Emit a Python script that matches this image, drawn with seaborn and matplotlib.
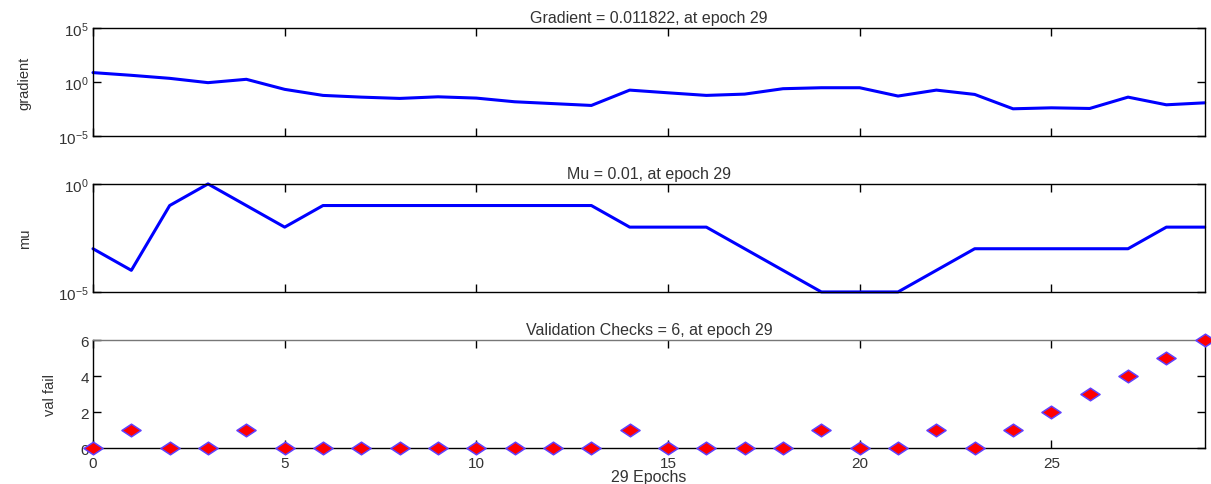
import numpy as np
import pandas as pd
import matplotlib
matplotlib.use("Agg")
import matplotlib.pyplot as plt
import seaborn as sns
from matplotlib.path import Path
from matplotlib.ticker import FixedLocator, LogFormatterMathtext, NullLocator

# ── data ─────────────────────────────────────────────────────────────────────
epochs = list(range(30))

grad_log10 = [0.87, 0.62, 0.34, -0.06, 0.25, -0.68, -1.24, -1.40, -1.52, -1.37,
              -1.49, -1.83, -2.00, -2.17, -0.75, -1.00, -1.24, -1.12, -0.62, -0.53,
              -0.53, -1.30, -0.75, -1.15, -2.48, -2.39, -2.45, -1.40, -2.11, -1.927]

mu_log10 = [-3, -4, -1, 0, -1, -2, -1, -1, -1, -1,
            -1, -1, -1, -1, -2, -2, -2, -3, -4, -5,
            -5, -5, -4, -3, -3, -3, -3, -3, -2, -2]

val_fail = [0, 1, 0, 0, 1, 0, 0, 0, 0, 0,
            0, 0, 0, 0, 1, 0, 0, 0, 0, 1,
            0, 0, 1, 0, 1, 2, 3, 4, 5, 6]

titles = ["Gradient = 0.011822, at epoch 29",
          "Mu = 0.01, at epoch 29",
          "Validation Checks = 6, at epoch 29"]
ylabels = ["gradient", "mu", "val fail"]
xlabel = "29 Epochs"

df = pd.DataFrame({
    "epoch":    epochs,
    "gradient": np.power(10.0, grad_log10),
    "mu":       np.power(10.0, mu_log10),
    "val_fail": val_fail,
})

# ── figure ───────────────────────────────────────────────────────────────────
sns.set_style("ticks")
plt.rcParams["font.family"] = ["Liberation Sans", "DejaVu Sans"]
plt.rcParams["mathtext.fontset"] = "custom"
plt.rcParams["mathtext.rm"] = "Liberation Sans"
plt.rcParams["mathtext.it"] = "Liberation Sans"

fig = plt.figure(figsize=(12.11, 4.85), dpi=100)
fig.patch.set_facecolor("white")

left, width, height = 0.0768, 0.918, 0.2227
bottoms = [0.7175, 0.396, 0.0742]
axes = [fig.add_axes([left, b, width, height]) for b in bottoms]

BLUE = "#0000ff"
TXT = "#333333"

# wide diamond, like the stretched MATLAB marker
wide_diamond = Path([(-1.0, 0.0), (0.0, 0.66), (1.0, 0.0), (0.0, -0.66), (-1.0, 0.0)],
                    [Path.MOVETO, Path.LINETO, Path.LINETO, Path.LINETO, Path.CLOSEPOLY])

sns.lineplot(data=df, x="epoch", y="gradient", ax=axes[0],
             color=BLUE, linewidth=2.2, clip_on=False)
sns.lineplot(data=df, x="epoch", y="mu", ax=axes[1],
             color=BLUE, linewidth=2.2, clip_on=False)
sns.scatterplot(data=df, x="epoch", y="val_fail", ax=axes[2],
                marker=wide_diamond, s=190, color="#ff0000", edgecolor="#6040ff",
                linewidth=1.1, clip_on=False, zorder=3)

axes[0].set_yscale("log")
axes[0].set_ylim(1e-5, 1e5)
axes[0].yaxis.set_major_locator(FixedLocator([1e-5, 1e0, 1e5]))

axes[1].set_yscale("log")
axes[1].set_ylim(1e-5, 1e0)
axes[1].yaxis.set_major_locator(FixedLocator([1e-5, 1e0]))

for ax in axes[:2]:
    ax.yaxis.set_major_formatter(LogFormatterMathtext())
    ax.yaxis.set_minor_locator(NullLocator())

axes[2].set_ylim(0, 6)
axes[2].set_yticks([0, 2, 4, 6])

label_pads = [19, 19, 17]
for i, ax in enumerate(axes):
    ax.set_xlim(0, 29)
    ax.set_xticks([0, 5, 10, 15, 20, 25])
    ax.tick_params(direction="in", top=True, right=True, length=6, width=1,
                   labelsize=11, colors="black", labelcolor=TXT, pad=3)
    ax.tick_params(axis="x", pad=6)
    ax.tick_params(which="minor", length=0)
    ax.set_title(titles[i], fontsize=11.5, color=TXT, pad=4)
    ax.set_ylabel(ylabels[i], fontsize=10.5, color=TXT, labelpad=label_pads[i])
    ax.set_xlabel("")
    for spine in ax.spines.values():
        spine.set_visible(True)
        spine.set_color("black")
        spine.set_linewidth(1.0)
    if i < 2:
        ax.tick_params(labelbottom=False)

axes[2].spines["top"].set_color("#777777")
axes[2].set_xlabel(xlabel, fontsize=11.5, color=TXT, labelpad=-1)

plt.savefig("out.png", dpi=100, facecolor=fig.get_facecolor())
plt.close()
